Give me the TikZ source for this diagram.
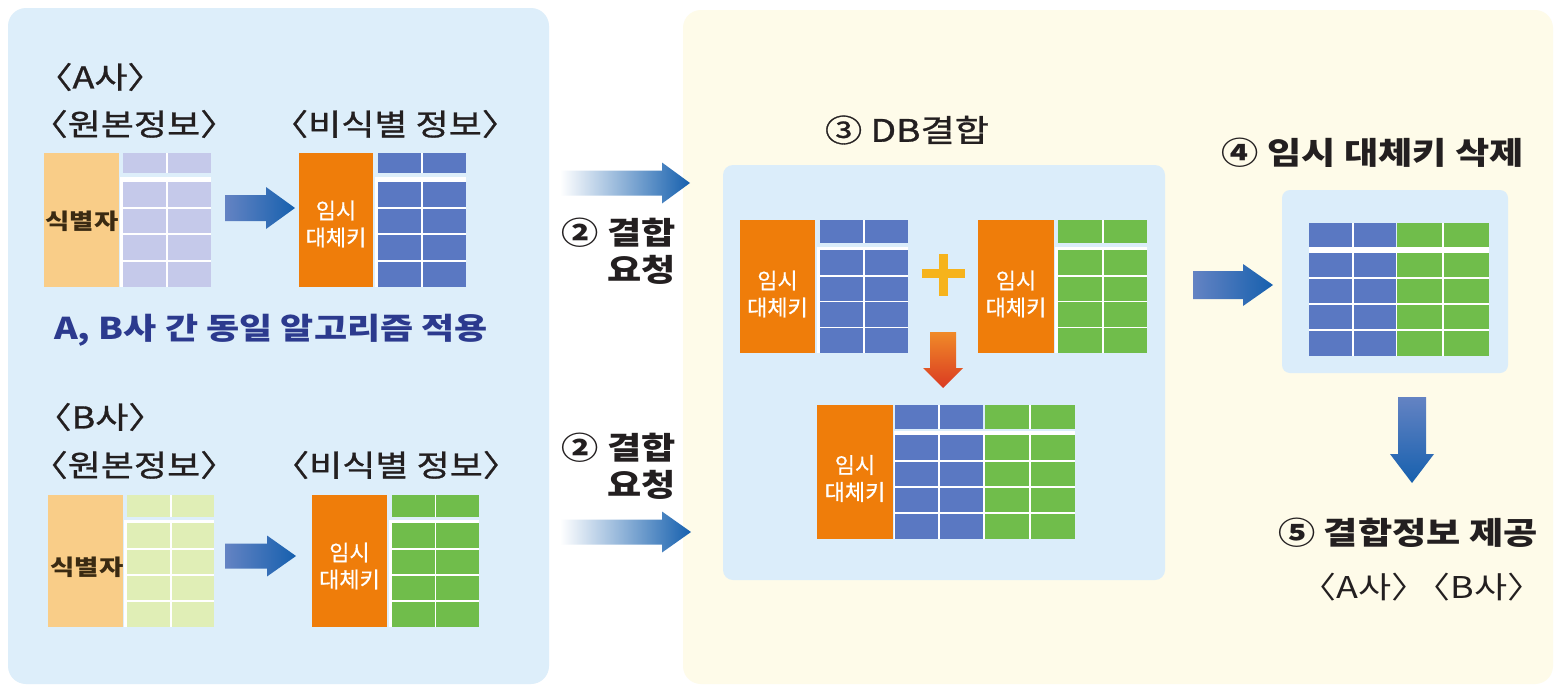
\documentclass[tikz,border=0pt]{standalone}
\usepackage{fontspec}
\newfontfamily\kr{Noto Sans CJK KR}
\newfontfamily\krk[FakeBold=0.6]{Noto Sans CJK KR}
\newfontfamily\krw[FakeStretch=1.2]{Noto Sans CJK KR}
\newfontfamily\krm[FakeStretch=1.2,FakeBold=1]{Noto Sans CJK KR}
\definecolor{lpanel}{HTML}{DDEEFA}
\definecolor{rpanel}{HTML}{FEFBE9}
\definecolor{dbbox}{HTML}{DBEDFA}
\definecolor{korange}{HTML}{EF7D0A}
\definecolor{kblue}{HTML}{5A78C2}
\definecolor{kgreen}{HTML}{70BD4B}
\definecolor{lpurple}{HTML}{C5C9EA}
\definecolor{lgreen}{HTML}{E0EEB6}
\definecolor{lorange}{HTML}{F9CD88}
\definecolor{arrowdark}{HTML}{1660AE}
\definecolor{arrowlight}{HTML}{6483C3}
\definecolor{arrowmid}{HTML}{3A6DB8}
\definecolor{txtblue}{HTML}{2C3A8E}
\definecolor{txt}{HTML}{231F20}
\definecolor{idbrown}{HTML}{3A2A12}
\definecolor{plusc}{HTML}{F6B31C}
\definecolor{redtop}{HTML}{F08A28}
\definecolor{redbot}{HTML}{DA3A22}
\newcommand\hcells[6]{\fill[#6] (#1,#3) rectangle (#2,#4);\foreach \xx in {#5}{\draw[gridln] (\xx,#3) -- (\xx,#4);}}
\newcommand\bcells[7]{\fill[#7] (#1,#3) rectangle (#2,#4);\foreach \xx in {#5}{\draw[gridln] (\xx,#3) -- (\xx,#4);}\foreach \yy in {#6}{\draw[gridln] (#1,\yy) -- (#2,\yy);}}
% x0, x-head, x-tip, y-centre, shaft half, head half, shading
\newcommand\harrow[7]{\shade[#7] (#1,#4-#5) -- (#2,#4-#5) -- (#2,#4-#6) -- (#3,#4) -- (#2,#4+#6) -- (#2,#4+#5) -- (#1,#4+#5) -- cycle;}
\begin{document}
\begin{tikzpicture}[x=1pt,y=-1pt,
  every node/.style={inner sep=0pt,outer sep=0pt},
  gridln/.style={white,line width=1.5pt},
  hd/.style={font=\krm\fontsize{30}{34}\selectfont,text=txt},
  idt/.style={font=\krw\bfseries\fontsize{22}{26}\selectfont,text=idbrown},
  tk/.style={font=\krk\fontsize{22}{27}\selectfont,text=white,align=center},
  stp/.style={font=\krw\bfseries\fontsize{31}{37}\selectfont,text=txt},
  blueshade/.style={left color=arrowlight,right color=arrowdark},
  fadeshade/.style={left color=white,middle color=arrowmid,right color=arrowdark}]
\useasboundingbox (0,0) rectangle (1555,686);
\fill[white] (0,0) rectangle (1555,686);
% panels
\fill[lpanel,rounded corners=18pt] (8,8) rectangle (549,684);
\fill[rpanel,rounded corners=18pt] (683,10) rectangle (1553,684);
% ---------- A company ----------
\node[hd] (aT) at (100,77) {〈A사〉};
\node[hd] (aOrig) at (134,124) {〈원본정보〉};
\node[hd] (aDeid) at (395,124) {〈비식별 정보〉};
\fill[lorange] (44,153) rectangle (119,287);
\node[idt] (aId) at (82,221) {식별자};
\hcells{123}{211}{153}{173}{167}{lpurple}
\fill[white] (120,177) rectangle (211,287);
\bcells{123}{211}{182}{287}{167}{208,234,261}{lpurple}
\harrow{225}{266}{295}{208}{13}{21}{blueshade}
\fill[korange] (299,153) rectangle (373,287);
\node[tk] (aKey) at (336,224) {임시\\대체키};
\hcells{378}{466}{153}{173}{422}{kblue}
\fill[white] (375,177) rectangle (466,287);
\bcells{378}{466}{182}{287}{422}{208,234,261}{kblue}
\node[font=\krw\bfseries\fontsize{30}{34}\selectfont,text=txtblue] (same) at (271,330) {A, B사 간 동일 알고리즘 적용};
% ---------- B company ----------
\node[hd] (bT) at (100,417) {〈B사〉};
\node[hd] (bOrig) at (134,465) {〈원본정보〉};
\node[hd] (bDeid) at (396,465) {〈비식별 정보〉};
\fill[lorange] (48,495) rectangle (123,627);
\node[idt] (bId) at (87,567) {식별자};
\hcells{127}{214}{495}{517}{171}{lgreen}
\fill[white] (124,520) rectangle (214,627);
\bcells{127}{214}{523}{627}{171}{549,575,601}{lgreen}
\harrow{225}{267}{296}{556}{12.5}{20.5}{blueshade}
\fill[korange] (312,495) rectangle (387,627);
\node[tk] (bKey) at (349.5,566) {임시\\대체키};
\hcells{392}{479}{495}{517}{435.5}{kgreen}
\fill[white] (389,520) rectangle (479,627);
\bcells{392}{479}{523}{627}{435.5}{549,575,601}{kgreen}
% ---------- requests ----------
\harrow{560}{662}{690}{183}{12.5}{20.5}{fadeshade}
\node[stp,align=right,anchor=east] (req1) at (676,251) {② 결합\\요청};
\node[stp,align=right,anchor=east] (req2) at (676,466) {② 결합\\요청};
\harrow{560}{662}{691}{532}{12.5}{20.5}{fadeshade}
% ---------- DB combine ----------
\node[font=\krm\fontsize{31}{35}\selectfont,text=txt] (dbT) at (907,130) {③ DB결합};
\fill[dbbox,rounded corners=10pt] (723,165) rectangle (1165,580);
\fill[korange] (740,220) rectangle (815,353);
\node[tk] (dbAKey) at (777.5,294) {임시\\대체키};
\hcells{820}{908}{220}{243}{864}{kblue}
\fill[white] (817,247) rectangle (908,353);
\bcells{820}{908}{250}{353}{864}{275.75,301.5,327.25}{kblue}
\fill[plusc] (922,269) rectangle (965,278);
\fill[plusc] (939,254) rectangle (948,296);
\fill[korange] (978,220) rectangle (1054,353);
\node[tk] (dbBKey) at (1016,294) {임시\\대체키};
\hcells{1058}{1147}{220}{243}{1103}{kgreen}
\fill[white] (1055,247) rectangle (1147,353);
\bcells{1058}{1147}{250}{353}{1103}{275.75,301.5,327.25}{kgreen}
\shade[top color=redtop,bottom color=redbot] (930,332) -- (956,332) -- (956,368) -- (963,368) -- (943,388) -- (923,368) -- (930,368) -- cycle;
\fill[korange] (817,405) rectangle (893,539);
\node[tk] (cKey) at (855,478.5) {임시\\대체키};
\fill[white] (894,405) rectangle (1075,539);
\fill[dbbox] (894,405) rectangle (1075,431);
\hcells{895}{983}{405}{429}{939}{kblue}
\hcells{985}{1075}{405}{429}{1030}{kgreen}
\bcells{895}{983}{435}{539}{939}{461,487,513}{kblue}
\bcells{985}{1075}{435}{539}{1030}{461,487,513}{kgreen}
% ---------- delete key ----------
\harrow{1193}{1243}{1273}{285}{14}{21}{blueshade}
\node[stp] (delT) at (1373,153) {④ 임시 대체키 삭제};
\fill[dbbox,rounded corners=8pt] (1282,190) rectangle (1508,373);
\fill[white] (1309,247) rectangle (1489,356);
\hcells{1309}{1396}{223}{247}{1353}{kblue}
\hcells{1397}{1489}{223}{247}{1443}{kgreen}
\bcells{1309}{1396}{253}{356}{1353}{278,304,330}{kblue}
\bcells{1397}{1489}{253}{356}{1443}{278,304,330}{kgreen}
% ---------- provide ----------
\shade[top color=arrowlight,bottom color=arrowdark] (1398,397) -- (1426,397) -- (1426,454) -- (1434,454) -- (1412,483) -- (1390,454) -- (1398,454) -- cycle;
\node[stp] (giveT) at (1408,533) {⑤ 결합정보 제공};
\node[font=\krw\fontsize{30}{34}\selectfont,text=txt] (giveAB) at (1422,587) {〈A사〉\kern-0.45em〈B사〉};
\end{tikzpicture}
\end{document}
